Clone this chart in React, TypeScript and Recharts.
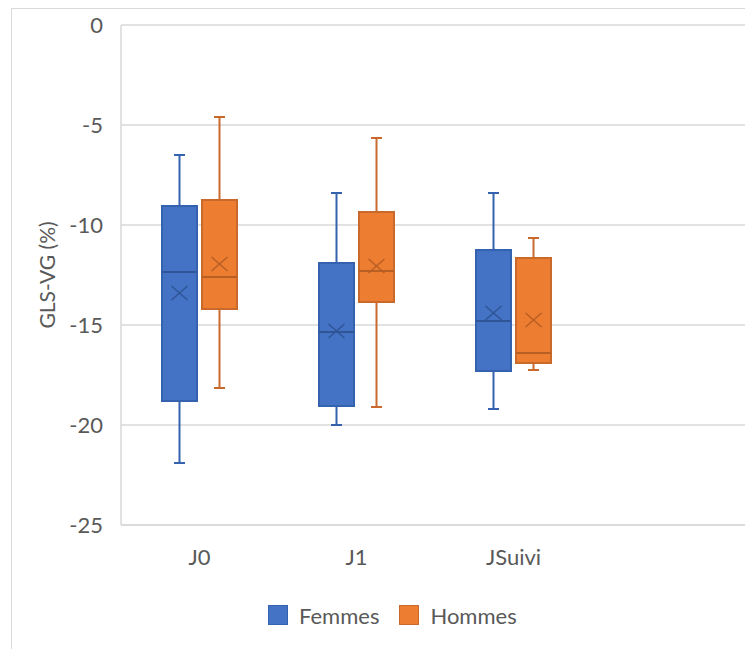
import { ComposedChart, Bar, XAxis, YAxis, CartesianGrid, Legend } from "recharts";

const CATEGORIES = ["J0", "J1", "JSuivi", ""];

const FEMMES_MIN = [-21.9, -20.0, -19.2];
const FEMMES_Q1 = [-18.8, -19.05, -17.3];
const FEMMES_MEDIAN = [-12.35, -15.35, -14.8];
const FEMMES_Q3 = [-9.05, -11.9, -11.25];
const FEMMES_MAX = [-6.5, -8.4, -8.4];
const FEMMES_MEAN = [-13.4, -15.3, -14.4];

const HOMMES_MIN = [-18.15, -19.1, -17.25];
const HOMMES_Q1 = [-14.2, -13.85, -16.9];
const HOMMES_MEDIAN = [-12.6, -12.3, -16.4];
const HOMMES_Q3 = [-8.75, -9.35, -11.65];
const HOMMES_MAX = [-4.6, -5.65, -10.65];
const HOMMES_MEAN = [-11.95, -12.05, -14.75];

const Y_TICKS = [0, -5, -10, -15, -20, -25];

const FONT = "Lato, 'Open Sans', sans-serif";
const TEXT = "#595959";
const GRID = "#d9d9d9";
const BLUE = "#4472C4";
const BLUE_LINE = "#3562AE";
const BLUE_DARK = "#2F5597";
const ORANGE = "#ED7D31";
const ORANGE_LINE = "#C9692C";
const ORANGE_DARK = "#B85F24";

const stats = (i: number, min: number[], q1: number[], med: number[], q3: number[], max: number[], mean: number[]) =>
  i < min.length ? { min: min[i], q1: q1[i], median: med[i], q3: q3[i], max: max[i], mean: mean[i] } : null;

const data = CATEGORIES.map((name, i) => {
  const f = stats(i, FEMMES_MIN, FEMMES_Q1, FEMMES_MEDIAN, FEMMES_Q3, FEMMES_MAX, FEMMES_MEAN);
  const h = stats(i, HOMMES_MIN, HOMMES_Q1, HOMMES_MEDIAN, HOMMES_Q3, HOMMES_MAX, HOMMES_MEAN);
  return {
    name,
    femmes: f ? [f.min, f.max] : null,
    hommes: h ? [h.min, h.max] : null,
    femmesStats: f,
    hommesStats: h,
  };
});

// box drawn inside the min..max range bar that recharts positions for us
function BoxShape(props: any) {
  const { x, y, width, height, st, fill, line, dark } = props;
  if (!st || height == null || isNaN(height)) return null;
  const top = Math.min(y, y + height);
  const h = Math.abs(height);
  const py = (v: number) => top + ((st.max - v) / (st.max - st.min)) * h;
  const cx = x + width / 2;
  const yq3 = py(st.q3), yq1 = py(st.q1), ymed = py(st.median), ymean = py(st.mean);
  const cap = 5.5;
  return (
    <g>
      <line x1={cx} x2={cx} y1={py(st.max)} y2={yq3} stroke={line} strokeWidth={2} />
      <line x1={cx} x2={cx} y1={yq1} y2={py(st.min)} stroke={line} strokeWidth={2} />
      <line x1={cx - cap} x2={cx + cap} y1={py(st.max)} y2={py(st.max)} stroke={line} strokeWidth={2} />
      <line x1={cx - cap} x2={cx + cap} y1={py(st.min)} y2={py(st.min)} stroke={line} strokeWidth={2} />
      <rect x={x + 1} y={yq3} width={width - 2} height={yq1 - yq3} fill={fill} stroke={line} strokeWidth={2} />
      <line x1={x + 1} x2={x + width - 1} y1={ymed} y2={ymed} stroke={dark} strokeWidth={2} />
      <line x1={cx - 8} x2={cx + 8} y1={ymean - 7} y2={ymean + 7} stroke={dark} strokeWidth={1.5} />
      <line x1={cx - 8} x2={cx + 8} y1={ymean + 7} y2={ymean - 7} stroke={dark} strokeWidth={1.5} />
    </g>
  );
}

const LegendBox = () => (
  <div style={{ display: "flex", alignItems: "center", height: 30, fontFamily: FONT, fontSize: 22, color: TEXT }}>
    <span style={{ width: 18, height: 18, background: BLUE, border: `1.5px solid ${BLUE_LINE}`, marginRight: 11 }} />
    <span style={{ marginRight: 20 }}>Femmes</span>
    <span style={{ width: 18, height: 18, background: ORANGE, border: `1.5px solid ${ORANGE_LINE}`, marginRight: 11 }} />
    <span>Hommes</span>
  </div>
);

export default function App() {
  return (
    <div style={{ position: "relative", width: 745, height: 649, marginBottom: -8, overflow: "hidden" }}>
      <div style={{ position: "absolute", left: 3, top: 0, width: 760, height: 700,
        borderTop: `1px solid ${GRID}`, borderLeft: `1px solid ${GRID}` }} />
      <div style={{ position: "absolute", left: 0, top: 0 }}>
        <ComposedChart width={745} height={649} data={data} barSize={37} barGap={3}
          margin={{ top: 17, right: 4, left: 0, bottom: 72 }} style={{ fontFamily: FONT }}>
          <CartesianGrid stroke={GRID} strokeWidth={1.5} vertical={false} />
          <XAxis dataKey="name" tickLine={false} tickSize={0} tickMargin={24} height={30}
            axisLine={{ stroke: GRID, strokeWidth: 1.5 }} tick={{ fill: TEXT, fontSize: 22 }} />
          <YAxis type="number" domain={[-25, 0]} ticks={Y_TICKS} width={113} tickLine={false}
            tickSize={0} tickMargin={18} axisLine={{ stroke: GRID, strokeWidth: 1.5 }}
            tick={{ fill: TEXT, fontSize: 22 }}
            label={{ value: "GLS-VG (%)", angle: -90, position: "insideLeft", offset: 40,
              style: { textAnchor: "middle", fill: TEXT, fontSize: 21 } }} />
          <Legend content={<LegendBox />} wrapperStyle={{ left: 260, top: 592, width: "auto" }} />
          <Bar dataKey="femmes" name="Femmes" fill={BLUE} isAnimationActive={false}
            shape={(p: any) => <BoxShape {...p} st={p.payload?.femmesStats} fill={BLUE} line={BLUE_LINE} dark={BLUE_DARK} />} />
          <Bar dataKey="hommes" name="Hommes" fill={ORANGE} isAnimationActive={false}
            shape={(p: any) => <BoxShape {...p} st={p.payload?.hommesStats} fill={ORANGE} line={ORANGE_LINE} dark={ORANGE_DARK} />} />
        </ComposedChart>
      </div>
    </div>
  );
}
